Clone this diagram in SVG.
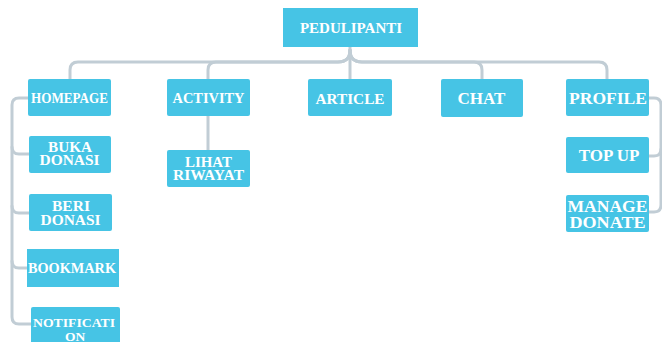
<svg xmlns="http://www.w3.org/2000/svg" width="662" height="342" viewBox="0 0 662 342">
<style>
.box{fill:#46C4E5;}
.lbl{font-family:"Liberation Serif","Times New Roman",serif;font-weight:bold;fill:#FFFFFF;text-anchor:middle;}
.con{fill:none;stroke:#C1CDD5;stroke-width:3;stroke-linecap:round;}
</style>
<rect width="662" height="342" fill="#FFFFFF"/>
<g id="connectors">
<path class="con" d="M350,47 V79"/>
<path class="con" d="M350,50 Q350,62 338,62 H78 Q70,62 70,70 V79"/>
<path class="con" d="M350,50 Q350,62 338,62 H216 Q208,62 208,70 V79"/>
<path class="con" d="M350,50 Q350,62 362,62 H474 Q482,62 482,70 V79"/>
<path class="con" d="M350,50 Q350,62 362,62 H599 Q607,62 607,70 V79"/>
<path class="con" d="M208,116 V150"/>
<path class="con" d="M28,98 H19 Q12,98 12,105 V317 Q12,324 19,324 H31"/>
<path class="con" d="M12,147 Q12,154 19,154 H29"/>
<path class="con" d="M12,206 Q12,213 19,213 H29"/>
<path class="con" d="M12,261 Q12,268 19,268 H27"/>
<path class="con" d="M649,98 H654 Q661,98 661,105 V205 Q661,212 654,212 H649"/>
<path class="con" d="M649,156 H654 Q661,156 661,149"/>
</g>
<g id="pedulipanti"><rect class="box" x="283" y="8" width="135" height="39"/><text class="lbl" x="351" y="33" font-size="15">PEDULIPANTI</text></g>
<g id="homepage"><rect class="box" x="28" y="79" width="83" height="37" rx="2"/><text class="lbl" x="69.5" y="103" font-size="14" textLength="77" lengthAdjust="spacingAndGlyphs">HOMEPAGE</text></g>
<g id="activity"><rect class="box" x="167" y="79" width="83" height="37" rx="2"/><text class="lbl" x="208.5" y="103" font-size="15" textLength="72" lengthAdjust="spacingAndGlyphs">ACTIVITY</text></g>
<g id="article"><rect class="box" x="308" y="79" width="84" height="37" rx="2"/><text class="lbl" x="350" y="104" font-size="15.5" textLength="69" lengthAdjust="spacingAndGlyphs">ARTICLE</text></g>
<g id="chat"><rect class="box" x="441" y="79" width="82" height="38" rx="2"/><text class="lbl" x="481.5" y="104" font-size="17">CHAT</text></g>
<g id="profile"><rect class="box" x="566" y="79" width="83" height="37" rx="2"/><text class="lbl" x="608" y="104" font-size="17.5" textLength="78" lengthAdjust="spacingAndGlyphs">PROFILE</text></g>
<g id="buka-donasi"><rect class="box" x="29" y="136" width="82" height="37" rx="2"/><text class="lbl" x="70" y="151.5" font-size="14.5" textLength="44" lengthAdjust="spacingAndGlyphs">BUKA</text><text class="lbl" x="69.5" y="165" font-size="14.5" textLength="60" lengthAdjust="spacingAndGlyphs">DONASI</text></g>
<g id="beri-donasi"><rect class="box" x="29" y="194" width="83" height="37" rx="2"/><text class="lbl" x="71" y="211" font-size="14.5" textLength="38" lengthAdjust="spacingAndGlyphs">BERI</text><text class="lbl" x="70.5" y="224.5" font-size="14.5" textLength="60" lengthAdjust="spacingAndGlyphs">DONASI</text></g>
<g id="bookmark"><rect class="box" x="27" y="249" width="92" height="38"/><text class="lbl" x="72" y="272.5" font-size="14.3" textLength="88" lengthAdjust="spacingAndGlyphs">BOOKMARK</text></g>
<g id="notification"><rect class="box" x="31" y="307" width="89" height="40" rx="2"/><text class="lbl" x="74" y="327" font-size="13.5" textLength="82" lengthAdjust="spacingAndGlyphs">NOTIFICATI</text><text class="lbl" x="75" y="340.5" font-size="13.5">ON</text></g>
<g id="lihat-riwayat"><rect class="box" x="167" y="150" width="83" height="37" rx="2"/><text class="lbl" x="208.5" y="166.5" font-size="14.5" textLength="47" lengthAdjust="spacingAndGlyphs">LIHAT</text><text class="lbl" x="208.5" y="180" font-size="14.5" textLength="71" lengthAdjust="spacingAndGlyphs">RIWAYAT</text></g>
<g id="top-up"><rect class="box" x="566" y="137" width="83" height="36" rx="2"/><text class="lbl" x="609" y="161" font-size="17">TOP UP</text></g>
<g id="manage-donate"><rect class="box" x="566" y="195" width="83" height="37" rx="2"/><text class="lbl" x="607.5" y="211.5" font-size="16.5" textLength="80" lengthAdjust="spacingAndGlyphs">MANAGE</text><text class="lbl" x="607.5" y="228" font-size="16.5" textLength="76" lengthAdjust="spacingAndGlyphs">DONATE</text></g>
</svg>
